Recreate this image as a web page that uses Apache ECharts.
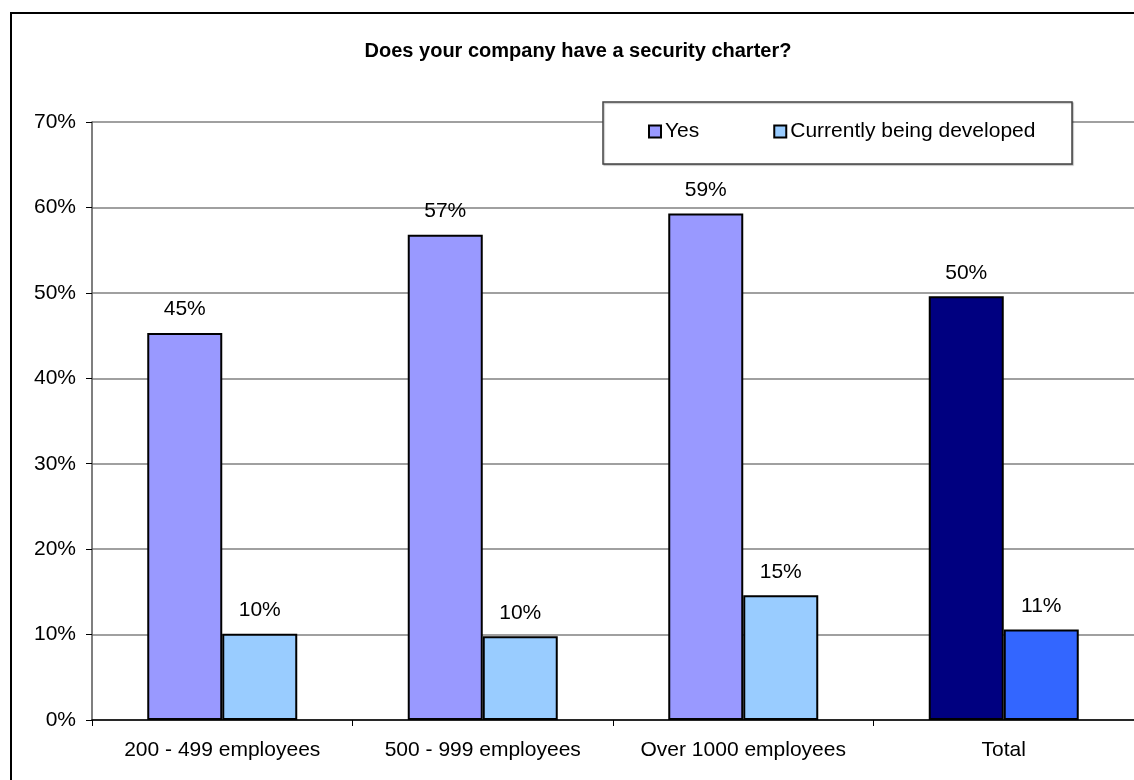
<!DOCTYPE html>
<html>
<head>
<meta charset="utf-8">
<title>Does your company have a security charter?</title>
<script src="https://cdn.jsdelivr.net/npm/echarts@6/dist/echarts.min.js"></script>
<style>
  html, body { margin: 0; padding: 0; background: #ffffff; }
  #chart { width: 1134px; height: 780px; }
</style>
</head>
<body>
<div id="chart"></div>
<script>
// Survey answers by company size (percent of respondents)
const categories = ['200 - 499 employees', '500 - 999 employees', 'Over 1000 employees', 'Total'];
const yesValues = [45.3, 56.8, 59.3, 49.6];
const developingValues = [10.1, 9.8, 14.6, 10.6];
const yTickLabels = ['0%', '10%', '20%', '30%', '40%', '50%', '60%', '70%'];

const FONT = "'Liberation Sans', Arial, Helvetica, sans-serif";
const FS = 21;
const yesColor = '#9999FF';
const devColor = '#99CCFF';
// The "Total" group is highlighted with darker fills
const totalYesColor = '#000080';
const totalDevColor = '#3366FF';

function seriesData(values, base, totalColor) {
  return values.map((v, i) => ({
    value: v,
    itemStyle: { color: categories[i] === 'Total' ? totalColor : base }
  }));
}

const labelStyle = {
  show: true,
  position: 'top',
  distance: 13,
  fontFamily: FONT,
  fontSize: FS,
  color: '#000000',
  formatter: p => Math.round(p.value) + '%'
};

const chart = echarts.init(document.getElementById('chart'), null, { renderer: 'canvas' });

chart.setOption({
  animation: false,
  backgroundColor: '#ffffff',
  title: {
    text: 'Does your company have a security charter?',
    left: 573,
    top: 36,
    textAlign: 'center',
    textStyle: { fontFamily: FONT, fontSize: 20, fontWeight: 'bold', color: '#000000' }
  },
  graphic: [
    {
      type: 'rect',
      z: 0,
      shape: { x: 11, y: 13, width: 1200, height: 900 },
      style: { fill: 'none', stroke: '#000000', lineWidth: 2 }
    },
    {
      type: 'rect',
      z: 10,
      shape: { x: 603, y: 102, width: 469, height: 62 },
      style: { fill: '#ffffff', stroke: '#444444', lineWidth: 1.5,
               shadowColor: 'rgba(0,0,0,0.25)', shadowOffsetX: 1, shadowOffsetY: 1, shadowBlur: 1 }
    }
  ],
  legend: {
    z: 20,
    left: 643,
    top: 116,
    itemWidth: 12,
    itemHeight: 12,
    itemGap: 74,
    icon: 'rect',
    textStyle: { fontFamily: FONT, fontSize: FS, color: '#000000', padding: [0, 0, 0, -1] },
    itemStyle: { borderColor: '#000000', borderWidth: 2 },
    data: ['Yes', 'Currently being developed']
  },
  grid: {
    left: 92,
    top: 122,
    width: 1044,
    height: 598,
    containLabel: false
  },
  xAxis: {
    type: 'category',
    data: categories,
    axisLine: { lineStyle: { color: '#000000', width: 1.5 } },
    axisTick: { show: true, interval: 0, length: 6, alignWithLabel: false, lineStyle: { color: '#000000' } },
    axisLabel: { interval: 0, fontFamily: FONT, fontSize: FS, color: '#000000', margin: 20 },
    splitLine: { show: false }
  },
  yAxis: {
    type: 'value',
    min: 0,
    max: 70,
    interval: 10,
    axisLine: { show: true, lineStyle: { color: '#555555', width: 1.5 } },
    axisTick: { show: true, length: 6, lineStyle: { color: '#000000' } },
    axisLabel: {
      fontFamily: FONT, fontSize: FS, color: '#000000', margin: 16,
      formatter: v => yTickLabels[Math.round(v / 10)]
    },
    splitLine: { show: true, lineStyle: { color: '#808080', width: 1.5 } }
  },
  series: [
    {
      name: 'Yes',
      type: 'bar',
      barWidth: 75,
      barGap: '0%',
      itemStyle: { color: yesColor, borderColor: '#000000', borderWidth: 2 },
      label: labelStyle,
      data: seriesData(yesValues, yesColor, totalYesColor)
    },
    {
      name: 'Currently being developed',
      type: 'bar',
      barWidth: 75,
      barGap: '0%',
      itemStyle: { color: devColor, borderColor: '#000000', borderWidth: 2 },
      label: labelStyle,
      data: seriesData(developingValues, devColor, totalDevColor)
    }
  ]
});
</script>
</body>
</html>
